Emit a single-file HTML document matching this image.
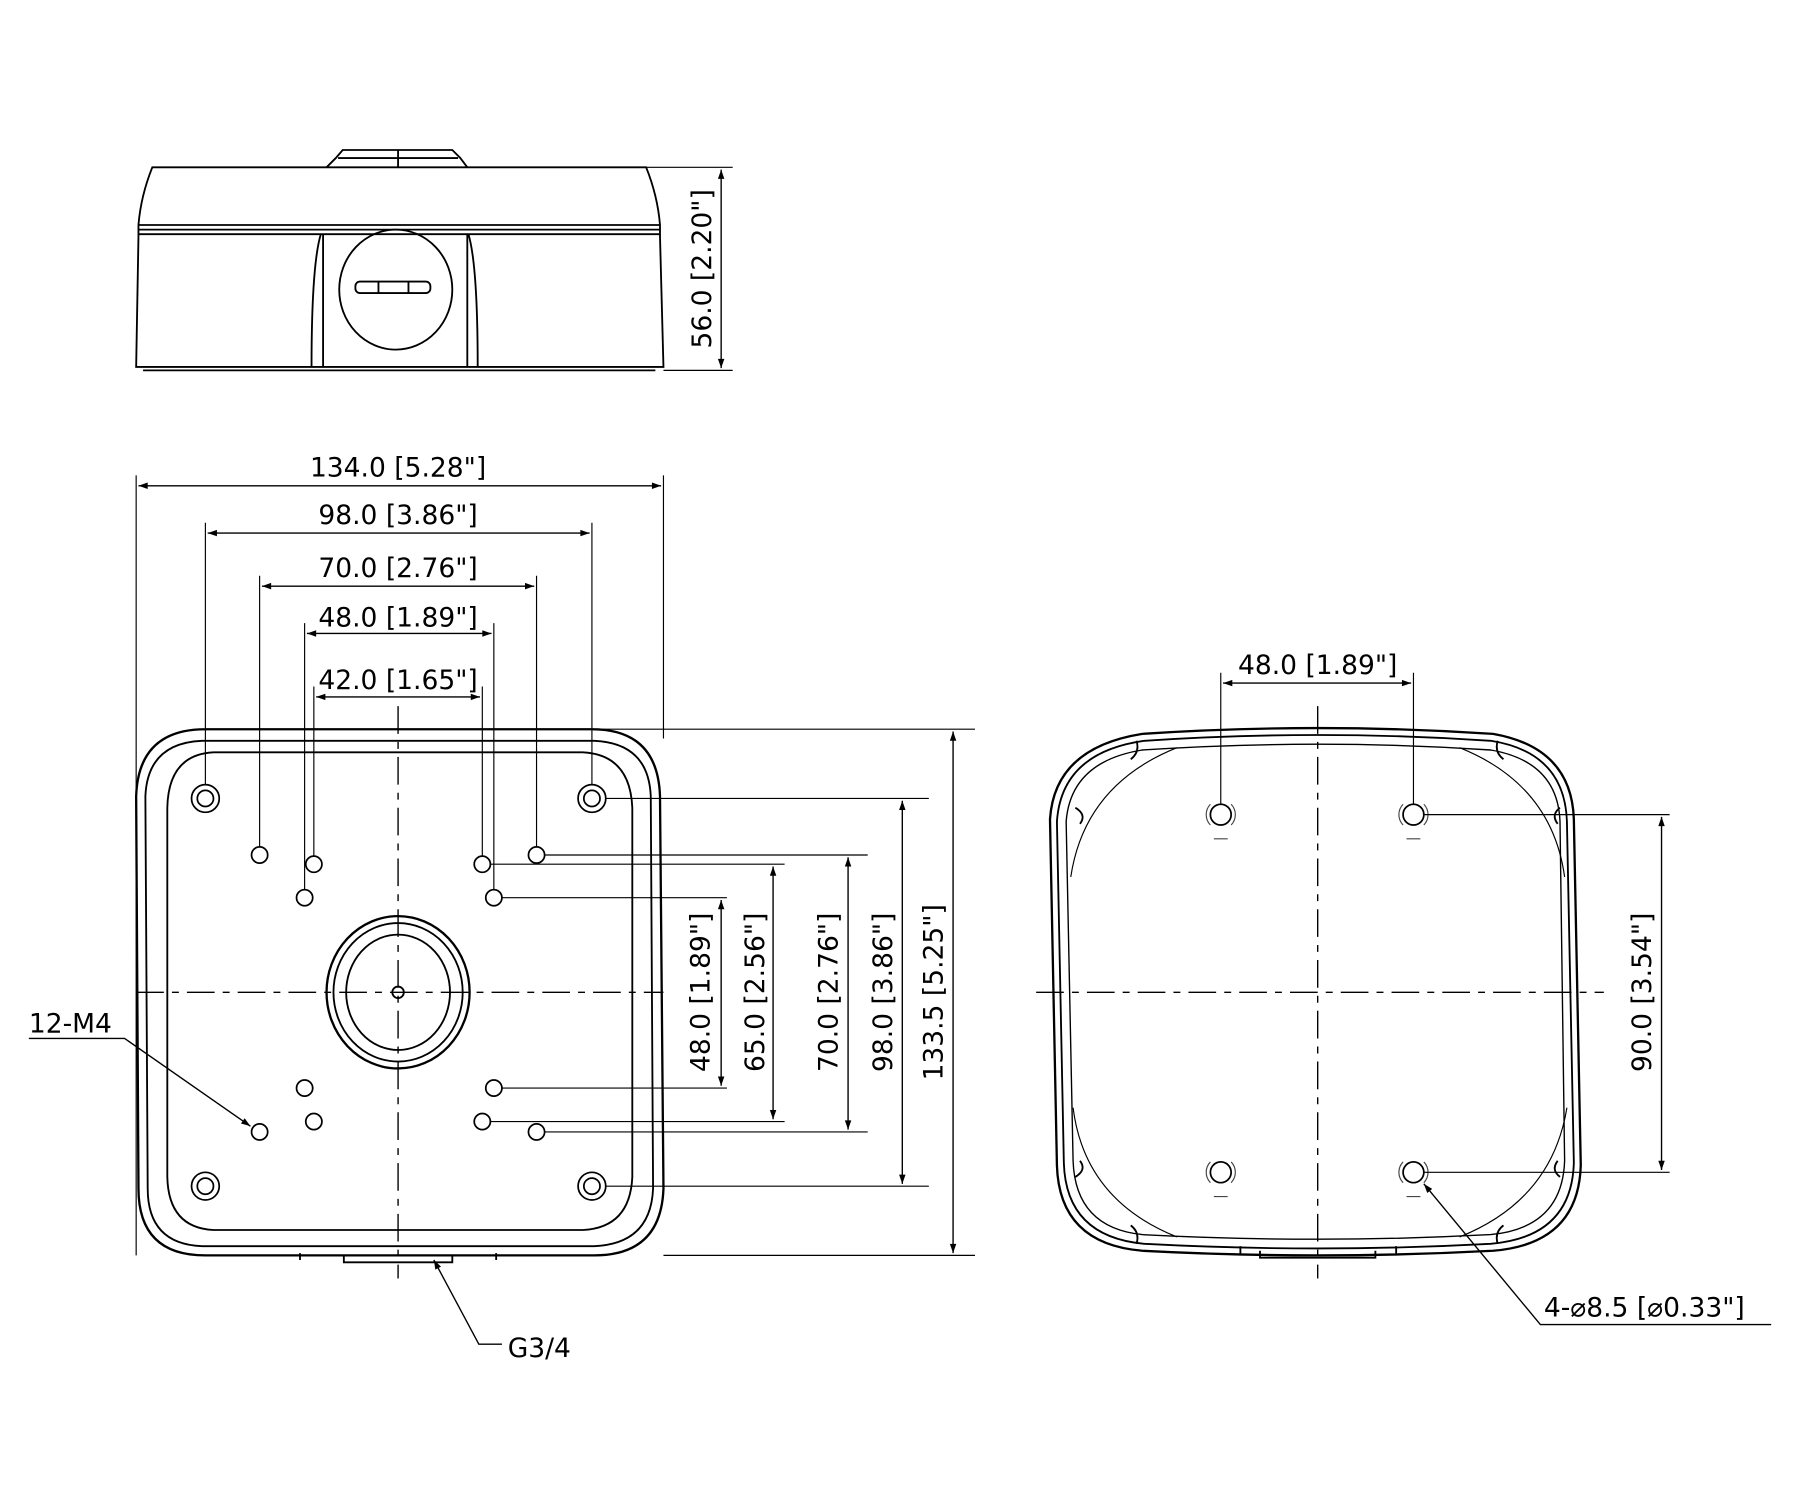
<!DOCTYPE html>
<html><head><meta charset="utf-8"><style>
html,body{margin:0;padding:0;background:#fff}
svg{display:block}
text{font-family:"DejaVu Sans","Liberation Sans",sans-serif;font-size:23px;fill:#000}
</style></head><body>
<svg width="1800" height="1500" viewBox="0 0 1560 1300" preserveAspectRatio="none" xmlns="http://www.w3.org/2000/svg">
<defs>
<marker id="a" viewBox="0 0 10 10" refX="10" refY="5" markerWidth="12" markerHeight="8" orient="auto-start-reverse" markerUnits="userSpaceOnUse"><path d="M0,1.5 L10,5 L0,8.5 z" fill="#000"/></marker>
</defs>
<g fill="none" stroke="#000" stroke-width="1.6">
<!-- TOP VIEW -->
<path d="M283,145 L291,137 L297,130 L392,130 L399,137 L405,145"/>
<line x1="293" y1="137" x2="397" y2="137"/>
<line x1="345" y1="130" x2="345" y2="145"/>
<path d="M118,318 L120,205 L120,195 Q122,170 132,145 L560,145 Q570,170 572,195 L572,205 L575,318 Z"/>
<line x1="120" y1="195" x2="572" y2="195"/>
<line x1="120" y1="199" x2="572" y2="199"/>
<line x1="120" y1="203" x2="572" y2="203"/>
<line x1="124" y1="321" x2="568" y2="321"/>
<path d="M270,318 Q270,230 278,203 M280,318 L280,203"/>
<path d="M414,318 Q414,230 406,203 M405,318 L405,203"/>
<ellipse cx="343" cy="251" rx="49" ry="52"/>
<rect x="308" y="244" width="65" height="10" rx="4"/>
<line x1="328" y1="244" x2="328" y2="254"/><line x1="354" y1="244" x2="354" y2="254"/>
<line x1="560" y1="145" x2="635" y2="145" stroke-width="1"/>
<line x1="575" y1="321" x2="635" y2="321" stroke-width="1"/>
<line x1="625" y1="147" x2="625" y2="319" stroke-width="1.2" marker-start="url(#a)" marker-end="url(#a)"/>

<!-- BOTTOM-LEFT VIEW -->
<path d="M178,632 L513,632 Q570,632 572,690 L575,1030 Q573,1088 515,1088 L178,1088 Q120,1088 120,1030 L118,690 Q120,632 178,632 Z" stroke-width="2"/>
<path d="M175,642 L515,642 Q562,644 564,690 L566,1030 Q564,1078 515,1080 L175,1080 Q128,1078 128,1030 L126,690 Q128,644 175,642 Z"/>
<path d="M185,652 L505,652 Q546,654 548,700 L548,1020 Q546,1064 505,1066 L185,1066 Q146,1064 145,1020 L145,700 Q146,654 185,652 Z"/>
<path d="M298,1088 L298,1094 L392,1094 L392,1088 M260,1086 L260,1092 M430,1086 L430,1092"/>
<g stroke-width="1.5">
<circle cx="178" cy="692" r="12"/><circle cx="178" cy="692" r="7"/>
<circle cx="513" cy="692" r="12"/><circle cx="513" cy="692" r="7"/>
<circle cx="178" cy="1028" r="12"/><circle cx="178" cy="1028" r="7"/>
<circle cx="513" cy="1028" r="12"/><circle cx="513" cy="1028" r="7"/>
<circle cx="225" cy="741" r="7"/><circle cx="272" cy="749" r="7"/><circle cx="418" cy="749" r="7"/><circle cx="465" cy="741" r="7"/>
<circle cx="264" cy="778" r="7"/><circle cx="428" cy="778" r="7"/>
<circle cx="264" cy="943" r="7"/><circle cx="428" cy="943" r="7"/>
<circle cx="272" cy="972" r="7"/><circle cx="418" cy="972" r="7"/>
<circle cx="225" cy="981" r="7"/><circle cx="465" cy="981" r="7"/>
</g>
<ellipse cx="345" cy="860" rx="62" ry="66" stroke-width="2"/>
<ellipse cx="345" cy="860" rx="56" ry="60"/>
<ellipse cx="345" cy="860" rx="45" ry="50"/>
<circle cx="345" cy="860" r="5"/>
<g stroke-width="1.2" stroke-dasharray="24,7,6,7">
<line x1="118" y1="860" x2="575" y2="860"/>
<line x1="345" y1="612" x2="345" y2="1108"/>
<line x1="898" y1="860" x2="1390" y2="860"/>
<line x1="1142" y1="612" x2="1142" y2="1108"/>
</g>
<!-- ext lines -->
<g stroke-width="1">
<line x1="118" y1="412" x2="118" y2="1088"/>
<line x1="575" y1="412" x2="575" y2="640"/>
<line x1="178" y1="453" x2="178" y2="680"/><line x1="513" y1="453" x2="513" y2="680"/>
<line x1="225" y1="499" x2="225" y2="734"/><line x1="465" y1="499" x2="465" y2="734"/>
<line x1="264" y1="540" x2="264" y2="771"/><line x1="428" y1="540" x2="428" y2="771"/>
<line x1="272" y1="595" x2="272" y2="742"/><line x1="418" y1="595" x2="418" y2="742"/>
<line x1="345" y1="632" x2="845" y2="632"/>
<line x1="575" y1="1088" x2="845" y2="1088"/>
<line x1="525" y1="692" x2="805" y2="692"/><line x1="525" y1="1028" x2="805" y2="1028"/>
<line x1="472" y1="741" x2="752" y2="741"/><line x1="472" y1="981" x2="752" y2="981"/>
<line x1="425" y1="749" x2="680" y2="749"/><line x1="425" y1="972" x2="680" y2="972"/>
<line x1="435" y1="778" x2="630" y2="778"/><line x1="435" y1="943" x2="630" y2="943"/>
</g>
<g stroke-width="1.2">
<line x1="120" y1="421" x2="573" y2="421" marker-start="url(#a)" marker-end="url(#a)"/>
<line x1="180" y1="462" x2="511" y2="462" marker-start="url(#a)" marker-end="url(#a)"/>
<line x1="227" y1="508" x2="463" y2="508" marker-start="url(#a)" marker-end="url(#a)"/>
<line x1="266" y1="549" x2="426" y2="549" marker-start="url(#a)" marker-end="url(#a)"/>
<line x1="274" y1="604" x2="416" y2="604" marker-start="url(#a)" marker-end="url(#a)"/>
<line x1="625" y1="780" x2="625" y2="941" marker-start="url(#a)" marker-end="url(#a)"/>
<line x1="670" y1="751" x2="670" y2="970" marker-start="url(#a)" marker-end="url(#a)"/>
<line x1="735" y1="743" x2="735" y2="979" marker-start="url(#a)" marker-end="url(#a)"/>
<line x1="782" y1="694" x2="782" y2="1026" marker-start="url(#a)" marker-end="url(#a)"/>
<line x1="826" y1="634" x2="826" y2="1086" marker-start="url(#a)" marker-end="url(#a)"/>
<polyline points="25,900 108,900 217,976" marker-end="url(#a)"/>
<polyline points="435,1165 415,1165 376,1092" marker-end="url(#a)"/>
</g>

<!-- RIGHT VIEW -->
<path d="M990,636 Q1142,626 1294,636 Q1362,648 1364,710 L1370,1010 Q1368,1078 1294,1084 Q1142,1092 990,1084 Q918,1078 916,1010 L910,710 Q914,648 990,636 Z" stroke-width="2"/>
<path d="M992,642 Q1142,632 1292,642 Q1356,652 1358,712 L1364,1008 Q1362,1072 1292,1078 Q1142,1086 992,1078 Q924,1072 922,1008 L916,712 Q920,652 992,642 Z"/>
<path d="M990,650 Q1142,640 1292,650 Q1350,660 1352,712 L1356,1006 Q1354,1064 1292,1070 Q1142,1078 990,1070 Q932,1064 930,1006 L924,712 Q928,660 990,650 Z" stroke-width="1.2"/>
<path d="M1020,648 Q940,680 928,760 M1265,648 Q1345,680 1356,760 M1020,1072 Q940,1040 930,960 M1265,1072 Q1345,1040 1358,960" stroke-width="1"/>
<path d="M985,642 Q988,652 980,658 M932,700 Q942,706 936,714 M1298,642 Q1295,652 1303,658 M1352,700 Q1344,706 1350,714 M985,1078 Q988,1068 980,1062 M932,1020 Q942,1014 936,1006 M1298,1078 Q1295,1068 1303,1062 M1352,1020 Q1344,1014 1350,1006"/>
<path d="M1092,1084 L1092,1090 L1192,1090 L1192,1084 M1075,1080 L1075,1088 M1210,1080 L1210,1088"/>
<g stroke-width="1.5">
<circle cx="1058" cy="706" r="9"/><circle cx="1225" cy="706" r="9"/>
<circle cx="1058" cy="1016" r="9"/><circle cx="1225" cy="1016" r="9"/>
</g>
<g stroke-width="1" stroke="#444">
<path d="M1049,697 A13,13 0 0 0 1049,715 M1067,697 A13,13 0 0 1 1067,715 M1052,727 L1064,727"/>
<path d="M1216,697 A13,13 0 0 0 1216,715 M1234,697 A13,13 0 0 1 1234,715 M1219,727 L1231,727"/>
<path d="M1049,1007 A13,13 0 0 0 1049,1025 M1067,1007 A13,13 0 0 1 1067,1025 M1052,1037 L1064,1037"/>
<path d="M1216,1007 A13,13 0 0 0 1216,1025 M1234,1007 A13,13 0 0 1 1234,1025 M1219,1037 L1231,1037"/>
</g>
<g stroke-width="1">
<line x1="1058" y1="583" x2="1058" y2="697"/><line x1="1225" y1="583" x2="1225" y2="697"/>
<line x1="1234" y1="706" x2="1447" y2="706"/><line x1="1234" y1="1016" x2="1447" y2="1016"/>
</g>
<g stroke-width="1.2">
<line x1="1060" y1="592" x2="1223" y2="592" marker-start="url(#a)" marker-end="url(#a)"/>
<line x1="1440" y1="708" x2="1440" y2="1014" marker-start="url(#a)" marker-end="url(#a)"/>
<polyline points="1535,1148 1335,1148 1234,1026" marker-end="url(#a)"/>
</g>
</g>

<g>
<text x="345" y="413" text-anchor="middle">134.0 [5.28"]</text>
<text x="345" y="454" text-anchor="middle">98.0 [3.86"]</text>
<text x="345" y="500" text-anchor="middle">70.0 [2.76"]</text>
<text x="345" y="543" text-anchor="middle">48.0 [1.89"]</text>
<text x="345" y="597" text-anchor="middle">42.0 [1.65"]</text>
<text x="1142" y="584" text-anchor="middle">48.0 [1.89"]</text>
<text transform="translate(616,233) rotate(-90)" text-anchor="middle">56.0 [2.20"]</text>
<text transform="translate(615,860) rotate(-90)" text-anchor="middle">48.0 [1.89"]</text>
<text transform="translate(662,860) rotate(-90)" text-anchor="middle">65.0 [2.56"]</text>
<text transform="translate(726,860) rotate(-90)" text-anchor="middle">70.0 [2.76"]</text>
<text transform="translate(773,860) rotate(-90)" text-anchor="middle">98.0 [3.86"]</text>
<text transform="translate(817,860) rotate(-90)" text-anchor="middle">133.5 [5.25"]</text>
<text transform="translate(1431,860) rotate(-90)" text-anchor="middle">90.0 [3.54"]</text>
<text x="25" y="895">12-M4</text>
<text x="440" y="1176">G3/4</text>
<text x="1338" y="1141">4-⌀8.5 [⌀0.33"]</text>
</g>
</svg>
</body></html>
